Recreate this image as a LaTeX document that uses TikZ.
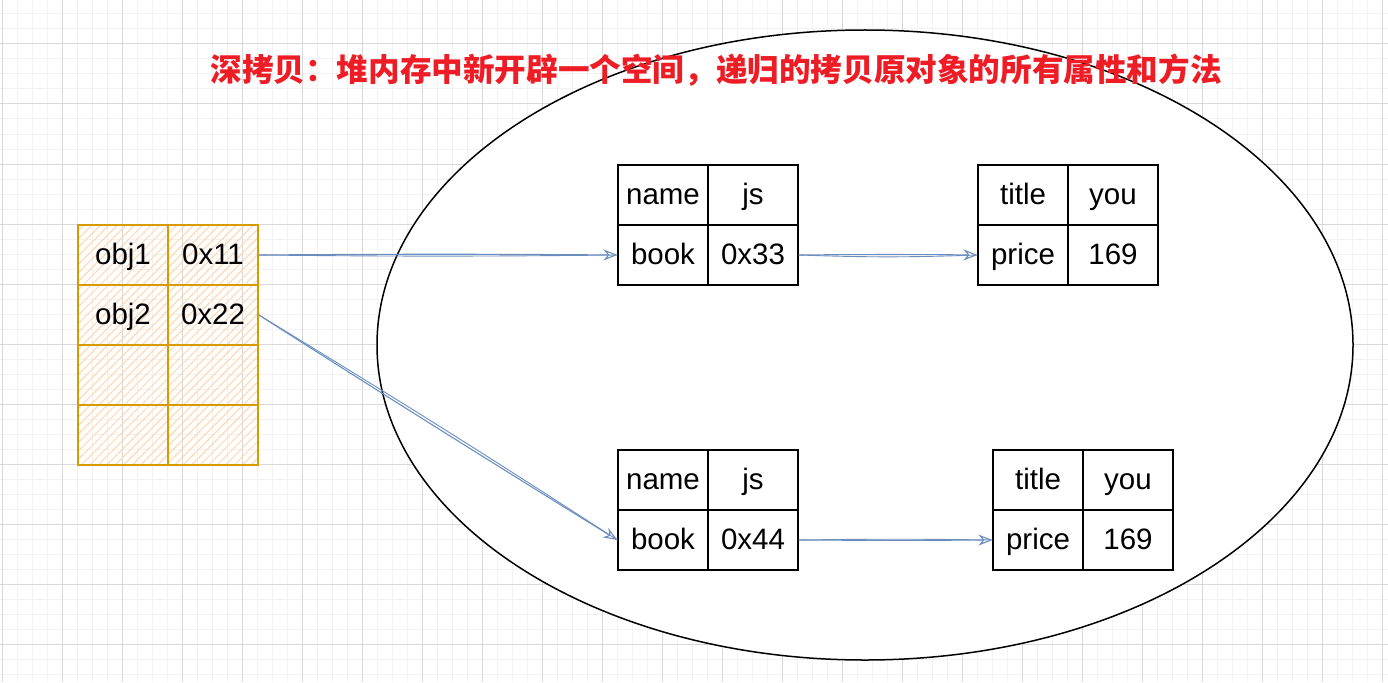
\documentclass[tikz,border=0pt]{standalone}
\usepackage{fontspec}
\setmainfont{Liberation Sans}
\newfontfamily\cjk{Noto Sans CJK SC}
\usetikzlibrary{arrows.meta,patterns.meta,shapes.geometric}
\definecolor{minorgrid}{HTML}{F2F2F2}
\definecolor{majorgrid}{HTML}{D9D9D9}
\definecolor{ored}{HTML}{D79B00}
\definecolor{ohatch}{HTML}{FFD6AD}
\definecolor{conncol}{HTML}{6C8EBF}
\definecolor{titlered}{HTML}{EE1C25}
\begin{document}
\begin{tikzpicture}[x=1pt,y=-1pt,
  celltext/.style={inner sep=0pt, font=\fontsize{29.5}{34}\selectfont,
    text height=19pt, text depth=0pt},
  cell/.style={celltext, draw=black, line width=1.2pt, minimum width=90pt, minimum height=60pt},
  lcell/.style={celltext, draw=ored, line width=1.8pt, minimum width=90pt, minimum height=60pt,
    pattern={Lines[angle=45,distance=6pt,line width=1pt]}, pattern color=ohatch},
  conn/.style={draw=conncol, line width=1.1pt, -{Stealth[open,length=14pt,width=11pt]}},
  connb/.style={draw=conncol, line width=0.9pt},
  title/.style={text=titlered, font=\cjk\bfseries\fontsize{31.6}{38}\selectfont, inner sep=0pt}]
\useasboundingbox (0,0) rectangle (1388,682);
\fill[white] (0,0) rectangle (1388,682);
% grid
\foreach \x in {2,17,...,1390} \draw[minorgrid, line width=1pt] (\x,0) -- (\x,682);
\foreach \y in {-1,14,...,690} \draw[minorgrid, line width=1pt] (0,\y) -- (1388,\y);
\foreach \x in {2,62,...,1390} \draw[majorgrid, line width=1pt] (\x,0) -- (\x,682);
\foreach \y in {44,104,...,690} \draw[majorgrid, line width=1pt] (0,\y) -- (1388,\y);
% heap ellipse
\node[draw=black, fill=white, line width=1.5pt, ellipse, inner sep=0pt,
  minimum width=976pt, minimum height=630pt] (heap) at (865,345) {};
% stack table
\node[lcell] (L11) at (123,255) {obj1};
\node[lcell] (L12) at (213,255) {0x11};
\node[lcell] (L21) at (123,315) {obj2};
\node[lcell] (L22) at (213,315) {0x22};
\node[lcell] (L31) at (123,375) {};
\node[lcell] (L32) at (213,375) {};
\node[lcell] (L41) at (123,435) {};
\node[lcell] (L42) at (213,435) {};
% object A
\node[cell] (A11) at (663,195) {name};
\node[cell] (A12) at (753,195) {js};
\node[cell] (A21) at (663,255) {book};
\node[cell] (A22) at (753,255) {0x33};
% object B
\node[cell] (B11) at (1023,195) {title};
\node[cell] (B12) at (1113,195) {you};
\node[cell] (B21) at (1023,255) {price};
\node[cell] (B22) at (1113,255) {169};
% object C
\node[cell] (C11) at (663,480) {name};
\node[cell] (C12) at (753,480) {js};
\node[cell] (C21) at (663,540) {book};
\node[cell] (C22) at (753,540) {0x44};
% object D
\node[cell] (D11) at (1038,480) {title};
\node[cell] (D12) at (1128,480) {you};
\node[cell] (D21) at (1038,540) {price};
\node[cell] (D22) at (1128,540) {169};
% title
\node[title] (T) at (716,70) {深拷贝：堆内存中新开辟一个空间，递归的拷贝原对象的所有属性和方法};
% connectors (sketchy double strokes)
\draw[connb] (L12.east) to[bend right=0.6] (A21.west);
\draw[conn] (L12.east) to[bend left=0.4] (A21.west);
\draw[connb] (L22.east) to[bend left=0.8] (C21.west);
\draw[conn] (L22.east) to[bend right=0.4] (C21.west);
\draw[connb] (A22.east) to[bend right=2] (B21.west);
\draw[conn] (A22.east) to[bend left=0.5] (B21.west);
\draw[connb] (C22.east) to[bend left=0.8] (D21.west);
\draw[conn] (C22.east) to[bend right=0.3] (D21.west);
\end{tikzpicture}
\end{document}
